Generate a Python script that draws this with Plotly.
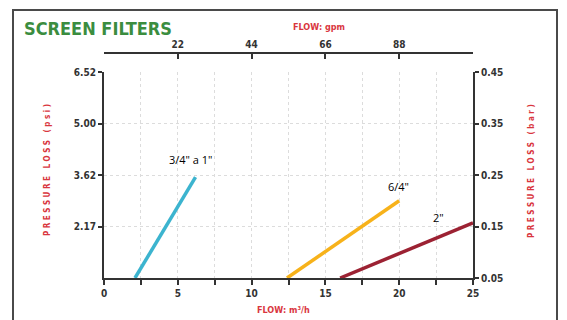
import plotly.graph_objects as go

# flow in m3/h, pressure loss in bar
blue_x = [2.1, 6.2]
blue_y = [0.05, 0.246]
orange_x = [12.4, 20.0]
orange_y = [0.05, 0.200]
red_x = [16.0, 25.0]
red_y = [0.05, 0.157]

series_names = ['3/4" a 1"', '6/4"', '2"']

x_ticks = [0, 2.5, 5, 7.5, 10, 12.5, 15, 17.5, 20, 22.5, 25]
x_labels = ["0", "", "5", "", "10", "", "15", "", "20", "", "25"]
gpm_ticks = [5, 10, 15, 20, 25]
gpm_labels = ["22", "44", "66", "88", ""]
bar_ticks = [0.05, 0.15, 0.25, 0.35, 0.45]
bar_labels = ["0.05", "0.15", "0.25", "0.35", "0.45"]
psi_ticks = [0.15, 0.25, 0.35, 0.45]
psi_labels = ["2.17", "3.62", "5.00", "6.52"]

# page body adds an 8px offset, so positions below are shifted back by 8
OFF = 8
W, H = 567, 320
L, T = 104 - OFF, 53 - OFF
R = W - (473 - OFF)
B = H - (278 - OFF)
pw, ph = W - L - R, H - T - B


def px_x(p):
    return (p - OFF - L) / pw


def px_y(p):
    return (H - B - (p - OFF)) / ph


narrow = "Liberation Sans Narrow, DejaVu Sans Condensed, Roboto Condensed, Liberation Sans, sans-serif"
tick_font = dict(family=narrow, size=10, color="#333333", weight="bold")
red_font = dict(family=narrow, size=10, color="#d9363e", weight="bold")

fig = go.Figure()

fig.add_trace(go.Scatter(x=blue_x, y=blue_y, mode="lines",
                         line=dict(color="#3cb4cf", width=3.5), name=series_names[0]))
fig.add_trace(go.Scatter(x=orange_x, y=orange_y, mode="lines",
                         line=dict(color="#f7b21a", width=3.5), name=series_names[1]))
fig.add_trace(go.Scatter(x=red_x, y=red_y, mode="lines",
                         line=dict(color="#9c2233", width=3.5), name=series_names[2]))
# hidden trace so the top and right axes are drawn
fig.add_trace(go.Scatter(x=[0], y=[0.05], xaxis="x2", yaxis="y2", mode="markers",
                         marker=dict(opacity=0), hoverinfo="skip"))

dom_top = (H - B - (72 - OFF)) / ph

fig.update_layout(
    width=W, height=H,
    margin=dict(l=L, r=R, t=T, b=B),
    paper_bgcolor="white",
    plot_bgcolor="white",
    showlegend=False,
    xaxis=dict(
        range=[0, 25], tickvals=x_ticks, ticktext=x_labels,
        showline=True, linecolor="#333", linewidth=2,
        ticks="outside", ticklen=5, tickwidth=2, tickcolor="#333",
        showgrid=True, gridcolor="#dcdcdc", griddash="dot", gridwidth=1,
        tickfont=tick_font, zeroline=False,
    ),
    xaxis2=dict(
        range=[0, 25], overlaying="x", side="top", anchor="free", position=1,
        tickvals=gpm_ticks, ticktext=gpm_labels,
        showline=True, linecolor="#333", linewidth=2,
        ticks="inside", ticklen=5, tickwidth=2, tickcolor="#333",
        showgrid=False, tickfont=tick_font, zeroline=False,
    ),
    yaxis=dict(
        domain=[0, dom_top], range=[0.05, 0.45],
        tickvals=psi_ticks, ticktext=psi_labels,
        showline=True, linecolor="#333", linewidth=2,
        ticks="outside", ticklen=4, tickwidth=2, tickcolor="#333",
        showgrid=True, gridcolor="#dcdcdc", griddash="dot", gridwidth=1,
        tickfont=tick_font, zeroline=False,
    ),
    yaxis2=dict(
        range=[0.05, 0.45], overlaying="y", side="right", anchor="x",
        tickvals=bar_ticks, ticktext=bar_labels,
        showline=True, linecolor="#333", linewidth=2,
        ticks="outside", ticklen=4, tickwidth=2, tickcolor="#333",
        showgrid=False, tickfont=tick_font, zeroline=False,
    ),
)

# outer frame
fig.add_shape(type="rect", xref="paper", yref="paper",
              x0=px_x(13), x1=px_x(557), y0=px_y(340), y1=px_y(10),
              line=dict(color="#4a4a4a", width=2), layer="below")

label_font = dict(family="Open Sans, sans-serif", size=11, color="black")
anns = [
    dict(x=px_x(22), y=px_y(29), text="SCREEN FILTERS", xanchor="left",
         font=dict(family=narrow, size=18, color="#3b8d3f", weight="bold")),
    dict(x=px_x(319), y=px_y(27), text="FLOW: gpm", font=dict(red_font, size=9)),
    dict(x=px_x(283), y=px_y(310), text="FLOW: m³/h", font=dict(red_font, size=9)),
    dict(x=px_x(47), y=px_y(170), text="P R E S S U R E   L O S S   ( p s i )",
         textangle=-90, font=dict(red_font, size=8)),
    dict(x=px_x(531), y=px_y(171), text="P R E S S U R E   L O S S   ( b a r )",
         textangle=-90, font=dict(red_font, size=8)),
    dict(x=px_x(191), y=px_y(159), text=series_names[0], font=label_font),
    dict(x=px_x(398), y=px_y(186), text=series_names[1], font=label_font),
    dict(x=px_x(438), y=px_y(217), text=series_names[2], font=label_font),
]
for a in anns:
    a.setdefault("xanchor", "center")
    fig.add_annotation(xref="paper", yref="paper", showarrow=False, yanchor="middle", **a)

fig.write_html("out.html")
